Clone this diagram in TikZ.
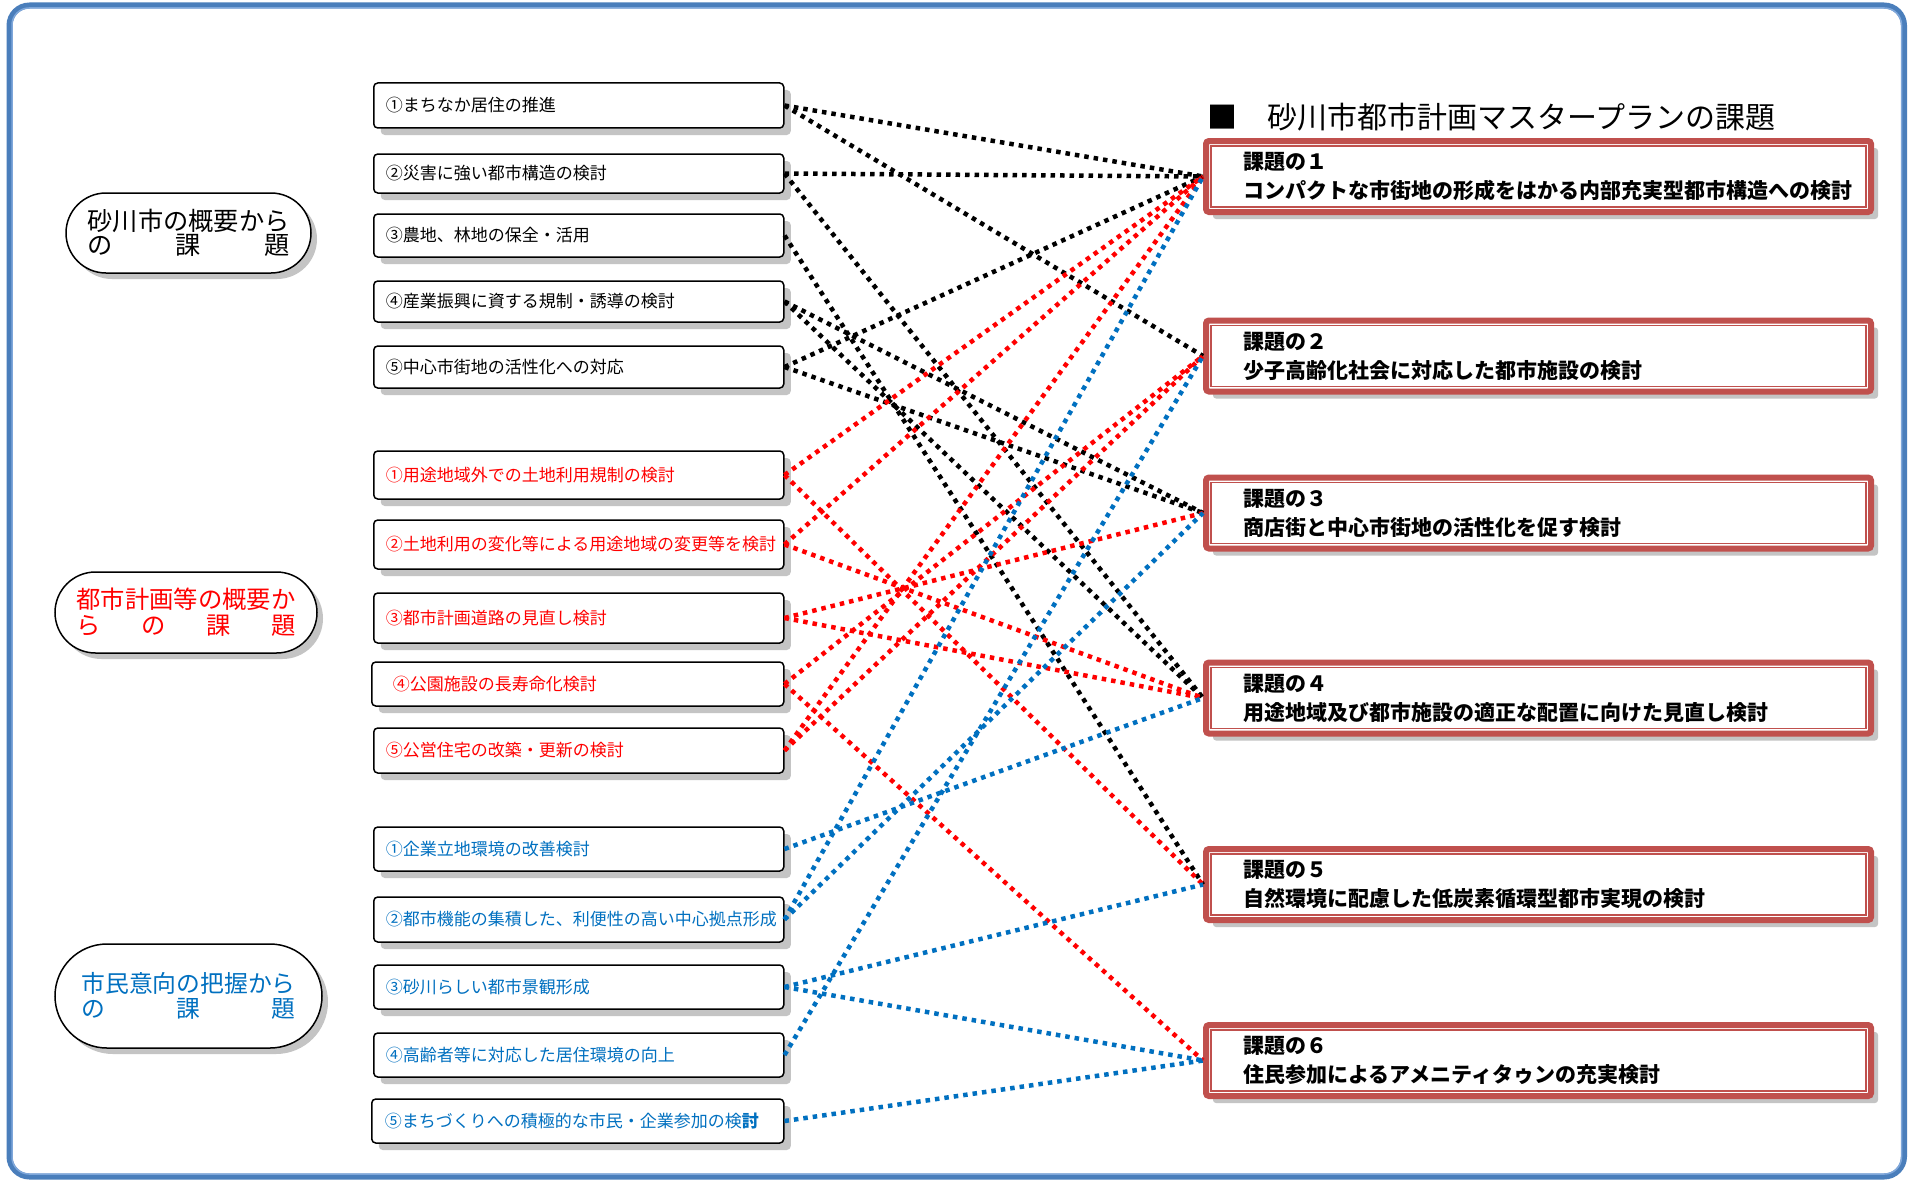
\documentclass[tikz,border=0pt]{standalone}
\usepackage{fontspec}
\setmainfont{Noto Sans CJK JP}
\usetikzlibrary{shapes.misc,shadows}

\definecolor{kred}{HTML}{C0504D}
\definecolor{tred}{HTML}{FF0000}
\definecolor{tblue}{HTML}{0070C0}
\definecolor{frameblue}{HTML}{4A7EBB}
\definecolor{framelight}{HTML}{7FA7DA}
\definecolor{shade}{HTML}{C4C4C4}

\tikzset{
  % left-hand issue boxes
  lbox/.style={draw=black, line width=1.5pt, fill=white, rounded corners=4pt,
    anchor=west, minimum width=410pt, text width=386pt, inner xsep=12pt,
    inner ysep=0pt, align=left, font=\fontsize{17}{20}\selectfont,
    drop shadow={shadow xshift=7pt, shadow yshift=-7pt, fill=shade, opacity=1}},
  % group captions on the far left
  grp/.style={draw=black, line width=1.5pt, fill=white, rounded rectangle,
    inner sep=0pt, align=center,
    drop shadow={shadow xshift=6pt, shadow yshift=-6pt, fill=shade, opacity=1}},
  % master plan issue boxes on the right
  kbox/.style={draw=kred, line width=6pt, fill=white, rounded corners=3pt,
    anchor=west, minimum width=665pt, minimum height=71pt, inner sep=0pt,
    drop shadow={shadow xshift=7pt, shadow yshift=-7pt, fill=shade, opacity=1}},
  ktext/.style={anchor=west, align=left, inner sep=0pt,
    font=\bfseries\fontsize{21}{29}\selectfont},
  % dotted connectors
  link/.style={line width=4.5pt, dash pattern=on 4.5pt off 5pt},
  lk/.style={link, black},
  lr/.style={link, tred},
  lb/.style={link, tblue},
}

\begin{document}
\begin{tikzpicture}[x=1pt, y=-1pt]
\useasboundingbox (0,0) rectangle (1910,1180);
\fill[white] (0,0) rectangle (1910,1180);

% outer frame
\draw[frameblue, line width=6pt, rounded corners=20pt] (9.5,5.5) rectangle (1904,1176.5);
\draw[framelight, line width=1.5pt, rounded corners=17pt] (12,8) rectangle (1901.5,1174);

% group captions
\node[grp, minimum width=245pt, minimum height=80pt,
      font=\fontsize{25.25}{24}\selectfont] (g1) at (188.5,233)
  {\hbox to 202pt{砂川市の概要から}\\\hbox to 202pt{の\hfil 課\hfil 題}};
\node[grp, minimum width=262pt, minimum height=81pt, text=tred,
      font=\fontsize{24.33}{26}\selectfont] (g2) at (186,612.5)
  {\hbox to 219pt{都市計画等の概要か}\\\hbox to 219pt{ら\hfil の\hfil 課\hfil 題}};
\node[grp, minimum width=267pt, minimum height=104pt, text=tblue,
      font=\fontsize{23.8}{25}\selectfont] (g3) at (188.5,996)
  {\hbox to 214pt{市民意向の把握から}\\\hbox to 214pt{の\hfil 課\hfil 題}};

% issues from the city overview
\node[lbox, minimum height=45pt] (b1) at (373,105.5) {①まちなか居住の推進};
\node[lbox, minimum height=39pt] (b2) at (373,173.5) {②災害に強い都市構造の検討};
\node[lbox, minimum height=43pt] (b3) at (373,235.5) {③農地、林地の保全・活用};
\node[lbox, minimum height=41pt] (b4) at (373,301.5) {④産業振興に資する規制・誘導の検討};
\node[lbox, minimum height=42pt] (b5) at (373,367) {⑤中心市街地の活性化への対応};

% issues from the planning overview
\node[lbox, text=tred, minimum height=48pt] (r1) at (373,475) {①用途地域外での土地利用規制の検討};
\node[lbox, text=tred, minimum height=49pt] (r2) at (373,544.5) {②土地利用の変化等による用途地域の変更等を検討};
\node[lbox, text=tred, minimum height=50pt] (r3) at (373,618) {③都市計画道路の見直し検討};
\node[lbox, text=tred, minimum height=44pt, minimum width=412pt, inner xsep=21pt, text width=370pt] (r4) at (371,684) {④公園施設の長寿命化検討};
\node[lbox, text=tred, minimum height=45pt] (r5) at (373,750.5) {⑤公営住宅の改築・更新の検討};

% issues from the residents' survey
\node[lbox, text=tblue, minimum height=44pt] (u1) at (373,849) {①企業立地環境の改善検討};
\node[lbox, text=tblue, minimum height=45pt] (u2) at (373,919.5) {②都市機能の集積した、利便性の高い中心拠点形成};
\node[lbox, text=tblue, minimum height=44pt] (u3) at (373,987) {③砂川らしい都市景観形成};
\node[lbox, text=tblue, minimum height=44pt] (u4) at (373,1055) {④高齢者等に対応した居住環境の向上};
\node[lbox, text=tblue, minimum height=44pt, minimum width=412pt, inner xsep=13pt] (u5) at (371,1121) {⑤まちづくりへの積極的な市民・企業参加の検{\bfseries 討}};

% heading
\node[anchor=west, inner sep=0pt, font=\fontsize{30}{32}\selectfont] (ttl) at (1207,117)
  {■　砂川市都市計画マスタープランの課題};

% master plan issues
\node[kbox] (k1) at (1203,176.5) {};
\node[kbox] (k2) at (1203,356) {};
\node[kbox] (k3) at (1203,513) {};
\node[kbox] (k4) at (1203,698) {};
\node[kbox] (k5) at (1203,884.5) {};
\node[kbox] (k6) at (1203,1060.5) {};
\foreach \k in {k1,k2,k3,k4,k5,k6}
  \draw[kred, line width=1.5pt] ([shift={(8pt,-8pt)}]\k.north west) rectangle ([shift={(-8pt,8pt)}]\k.south east);

\node[ktext] (k1t) at ([xshift=40pt]k1.west) {課題の１\\コンパクトな市街地の形成をはかる内部充実型都市構造への検討};
\node[ktext] (k2t) at ([xshift=40pt]k2.west) {課題の２\\少子高齢化社会に対応した都市施設の検討};
\node[ktext] (k3t) at ([xshift=40pt]k3.west) {課題の３\\商店街と中心市街地の活性化を促す検討};
\node[ktext] (k4t) at ([xshift=40pt]k4.west) {課題の４\\用途地域及び都市施設の適正な配置に向けた見直し検討};
\node[ktext] (k5t) at ([xshift=40pt]k5.west) {課題の５\\自然環境に配慮した低炭素循環型都市実現の検討};
\node[ktext] (k6t) at ([xshift=40pt]k6.west) {課題の６\\住民参加によるアメニティタゥンの充実検討};

% connectors: city overview
\draw[lk] (b1.east) -- (k1.west);
\draw[lk] (b1.east) -- (k2.west);
\draw[lk] (b2.east) -- (k1.west);
\draw[lk] (b2.east) -- (k4.west);
\draw[lk] (b3.east) -- (k5.west);
\draw[lk] (b4.east) -- (k3.west);
\draw[lk] (b4.east) -- (k4.west);
\draw[lk] (b5.east) -- (k1.west);
\draw[lk] (b5.east) -- (k3.west);

% connectors: planning overview
\draw[lr] (r1.east) -- (k1.west);
\draw[lr] (r1.east) -- (k5.west);
\draw[lr] (r2.east) -- (k1.west);
\draw[lr] (r2.east) -- (k4.west);
\draw[lr] (r3.east) -- (k3.west);
\draw[lr] (r3.east) -- (k4.west);
\draw[lr] (r4.east) -- (k2.west);
\draw[lr] (r4.east) -- (k6.west);
\draw[lr] (r5.east) -- (k1.west);
\draw[lr] (r5.east) -- (k2.west);

% connectors: residents' survey
\draw[lb] (u1.east) -- (k4.west);
\draw[lb] (u2.east) -- (k1.west);
\draw[lb] (u2.east) -- (k3.west);
\draw[lb] (u3.east) -- (k5.west);
\draw[lb] (u3.east) -- (k6.west);
\draw[lb] (u4.east) -- (k2.west);
\draw[lb] (u5.east) -- (k6.west);
\end{tikzpicture}
\end{document}
